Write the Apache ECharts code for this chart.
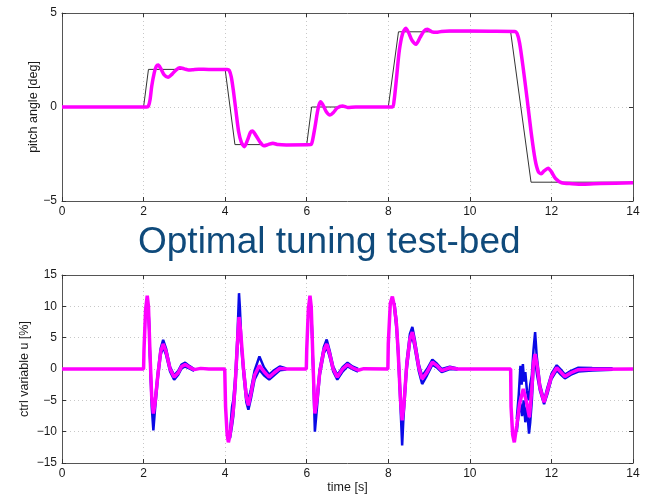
<!DOCTYPE html>
<html>
<head>
<meta charset="utf-8">
<script src="https://cdn.jsdelivr.net/npm/echarts@6/dist/echarts.min.js"></script>
<style>
html,body{margin:0;padding:0;background:#fff;}
#chart{width:648px;height:498px;}
</style>
</head>
<body>
<div id="chart"></div>
<script>
// ---------- tick labels ----------
var xTicks = [0, 2, 4, 6, 8, 10, 12, 14];
var pitchTicks = [-5, 0, 5];
var ctrlTicks = [-15, -10, -5, 0, 5, 10, 15];

// ---------- top: pitch reference (black) ----------
var refT = [0, 2, 2.12, 4, 4.24, 6, 6.12, 8, 8.25, 11, 11.5, 14];
var refV = [0, 0, 2, 2, -2, -2, 0, 0, 4, 4, -4, -4];

// ---------- top: pitch response (magenta) ----------
var pitchT = [0, 2.08, 2.12, 2.16, 2.2, 2.26, 2.31, 2.36, 2.42, 2.5, 2.6, 2.7, 2.8, 2.89, 3.0, 3.1, 3.2, 3.35, 3.6,
  4.05, 4.1, 4.15, 4.2, 4.27, 4.33, 4.4, 4.47, 4.55, 4.62, 4.67, 4.75, 4.85, 4.95, 5.05, 5.17, 5.3, 5.5,
  6.1, 6.14, 6.2, 6.26, 6.3, 6.34, 6.4, 6.48, 6.57, 6.65, 6.75, 6.88, 7.0, 7.2,
  8.1, 8.14, 8.2, 8.27, 8.35, 8.43, 8.5, 8.58, 8.68, 8.78, 8.88, 8.96, 9.07, 9.18, 9.3, 9.5, 10.5,
  11.1, 11.16, 11.22, 11.3, 11.4, 11.5, 11.6, 11.68, 11.75, 11.82, 11.92, 12.0, 12.1, 12.25, 12.5, 12.78, 13.2, 14];
var pitchV = [0, 0, 0.05, 0.4, 1.1, 1.8, 2.15, 2.23, 2.05, 1.72, 1.58, 1.75, 1.98, 2.09, 2.03, 1.97, 1.98, 2.01, 2.0,
  2.0, 1.95, 1.6, 0.9, -0.3, -1.3, -1.9, -2.11, -1.75, -1.35, -1.28, -1.5, -1.85, -2.06, -2.0, -1.93, -2.0, -2.02,
  -2.0, -1.8, -1.1, -0.3, 0.1, 0.28, 0.1, -0.25, -0.43, -0.3, -0.05, 0.05, -0.02, 0.0,
  0.0, 0.3, 1.5, 3.0, 3.9, 4.19, 3.95, 3.55, 3.34, 3.7, 4.05, 4.13, 4.0, 3.97, 4.02, 4.04, 4.03,
  4.02, 3.9, 3.4, 2.2, 0.5, -1.3, -2.8, -3.45, -3.55, -3.4, -3.26, -3.45, -3.8, -4.03, -4.08, -4.11, -4.07, -4.03];

// ---------- bottom: control variable (magenta) ----------
var ctrlT = [0, 2.0, 2.01, 2.05, 2.09, 2.12, 2.16, 2.2, 2.24, 2.28, 2.35, 2.42, 2.48, 2.55, 2.65, 2.75, 2.85, 2.93, 3.02, 3.12, 3.24, 3.4, 3.6,
  3.99, 4.01, 4.05, 4.08, 4.12, 4.17, 4.2, 4.25, 4.3, 4.34, 4.38, 4.45, 4.52, 4.57, 4.63, 4.72, 4.84, 4.95, 5.08, 5.2, 5.34, 5.5,
  5.99, 6.0, 6.04, 6.08, 6.11, 6.15, 6.18, 6.2, 6.25, 6.32, 6.42, 6.49, 6.56, 6.65, 6.75, 6.88, 7.0, 7.12, 7.26, 7.4,
  7.99, 8.0, 8.05, 8.1, 8.15, 8.2, 8.24, 8.3, 8.34, 8.38, 8.45, 8.53, 8.59, 8.65, 8.75, 8.83, 8.95, 9.08, 9.2, 9.31, 9.51, 9.7,
  11.0, 11.01, 11.05, 11.09, 11.15, 11.22, 11.31, 11.38, 11.46, 11.52, 11.56, 11.6, 11.65, 11.72, 11.82, 11.9, 12.0, 12.13, 12.23, 12.33, 12.48, 12.66, 13.0, 14];
var ctrlV = [0, 0, 3, 9.5, 11.7, 10, 2, -4.5, -7.1, -5.5, -1, 2.8, 4.0, 2.8, 0.0, -1.3, -0.6, 0.4, 0.7, 0.3, -0.1, 0.1, 0.0,
  0.0, -6, -10.5, -11.7, -10.5, -8, -6.6, -2, 4, 8.3, 6, 0, -4.5, -5.8, -4, -1, 0.55, -0.4, -1.3, -0.6, 0.1, 0.0,
  0, 3, 9.5, 11.7, 10, 2, -4, -7.1, -5, -0.5, 3, 4.0, 2.5, 0, -1.3, 0, 0.7, 0.2, -0.2, 0.05,
  0, 4, 10.5, 11.55, 10, 7.2, 3, -5, -8.2, -6, 0.5, 4.8, 5.9, 4, 0.2, -1.6, -0.5, 1.1, 0.5, -0.25, 0.2, 0,
  0, -6, -10.5, -11.7, -9, -5.5, -3.2, -5, -7.7, -3, 1, 2.4, 0.5, -3, -5.3, -3.5, -1.2, 0.2, -0.5, -1.2, -0.6, -0.1, -0.05, 0];

// ---------- bottom: spread of realisations (blue), upper and lower envelopes, null = gap ----------
var blueHiT = [2.12, 2.16, 2.2, 2.24, 2.28, 2.35, 2.42, 2.48, 2.55, 2.65, 2.75, 2.85, 2.93, 3.02, 3.12, 3.24, null,
  4.12, 4.17, 4.2, 4.25, 4.3, 4.34, 4.36, 4.4, 4.45, 4.52, 4.57, 4.63, 4.72, 4.84, 4.95, 5.08, 5.2, 5.34, 5.5, null,
  6.11, 6.15, 6.18, 6.2, 6.25, 6.32, 6.42, 6.49, 6.56, 6.65, 6.75, 6.88, 7.0, 7.12, 7.26, null,
  8.15, 8.2, 8.24, 8.3, 8.34, 8.38, 8.45, 8.53, 8.59, 8.65, 8.75, 8.83, 8.95, 9.08, 9.2, 9.31, 9.51, 9.7, null,
  11.15, 11.2, 11.24, 11.27, 11.3, 11.33, 11.36, 11.4, 11.44, 11.48, 11.52, 11.56, 11.6, 11.64, 11.72, 11.82, 11.9, 12.0, 12.13, 12.23, 12.33, 12.48, 12.66, 13.0, 13.5];
var blueHiV = [10, 2, -4.5, -6.5, -5, -0.5, 3.3, 4.65, 3.3, 0.3, -1.0, -0.3, 0.7, 1.0, 0.5, 0.0, null,
  -10, -6, -5, -1, 5, 12.1, 10, 4, 0.5, -3.8, -5.0, -3.3, -0.3, 2.0, 0.3, -0.9, -0.2, 0.4, 0.1, null,
  10, 2, -3.5, -6.5, -4.5, 0, 3.5, 4.7, 3.0, 0.4, -1.0, 0.3, 1.0, 0.4, 0.0, null,
  10.5, 7.8, 3.5, -4.5, -7.5, -5.5, 1.2, 5.6, 6.7, 4.7, 0.7, -1.1, 0.0, 1.5, 0.8, 0.0, 0.35, 0.1, null,
  -8, -4, 0.5, -2.5, 0.8, -2, -0.5, -3.5, -5, -2.5, -1, 3, 5.9, 2, -2.5, -5.0, -3.0, -0.8, 0.6, -0.1, -0.9, -0.3, 0.2, 0.15, 0.1];
var blueLoT = [2.12, 2.16, 2.2, 2.24, 2.28, 2.35, 2.42, 2.48, 2.55, 2.65, 2.75, 2.85, 2.93, 3.02, 3.12, 3.24, null,
  4.12, 4.17, 4.2, 4.25, 4.3, 4.34, 4.38, 4.45, 4.52, 4.57, 4.63, 4.72, 4.84, 4.95, 5.08, 5.2, 5.34, 5.5, null,
  6.11, 6.15, 6.18, 6.2, 6.24, 6.32, 6.42, 6.49, 6.56, 6.65, 6.75, 6.88, 7.0, 7.12, 7.26, null,
  8.15, 8.2, 8.24, 8.3, 8.34, 8.37, 8.45, 8.53, 8.59, 8.65, 8.75, 8.83, 8.95, 9.08, 9.2, 9.31, 9.51, 9.7, null,
  11.15, 11.2, 11.24, 11.28, 11.32, 11.36, 11.4, 11.45, 11.48, 11.52, 11.56, 11.6, 11.65, 11.72, 11.82, 11.9, 12.0, 12.13, 12.23, 12.33, 12.48, 12.66, 13.0, 13.5];
var blueLoV = [10, 1.5, -6, -9.8, -6.5, -1.5, 2.3, 3.5, 2.3, -0.4, -1.7, -0.9, 0.1, 0.4, 0.1, -0.3, null,
  -11, -9, -7.5, -3, 3, 7, 5, -0.8, -5.3, -6.5, -4.8, -1.7, -0.1, -1.0, -1.7, -1.0, -0.2, -0.1, null,
  10, 1.5, -5.5, -10, -7, -1, 2.5, 3.5, 2, -0.4, -1.7, -0.4, 0.4, 0.0, -0.4, null,
  9.5, 6.5, 2.5, -6, -12.2, -8, -0.2, 4.2, 5.3, 3.3, -0.4, -2.4, -1.0, 0.7, 0.2, -0.5, 0.0, -0.1, null,
  -10, -7, -5.5, -7.5, -5, -8.5, -6, -10.3, -8.5, -5, 0, 1.5, -1, -3.5, -5.6, -4, -1.6, -0.2, -0.9, -1.5, -0.9, -0.4, -0.25, -0.1];

function pairs(t, v) {
  var out = [];
  for (var i = 0; i < t.length; i++) {
    out.push(t[i] === null ? [null, null] : [t[i], v[i]]);
  }
  return out;
}
function fmt(v) { return v < 0 ? '\u2212' + Math.abs(v) : String(v); }

var FONT = 'Liberation Sans, Arial, Helvetica, sans-serif';
var AXC = '#555';
var GRID = '#c8c8c8';

function xAx(gi, showLabel, pos, name) {
  return {
    type: 'value', gridIndex: gi, min: xTicks[0], max: xTicks[xTicks.length - 1], interval: 2,
    position: pos,
    axisLine: { show: true, onZero: false, lineStyle: { color: AXC, width: 1 } },
    axisTick: { show: true, inside: true, length: 4, lineStyle: { color: '#333' } },
    axisLabel: { show: showLabel, color: '#1a1a1a', fontSize: 12, fontFamily: FONT, margin: 5 },
    splitLine: { show: showLabel, lineStyle: { color: GRID, type: [1, 3], width: 1 } },
    name: name || '', nameLocation: 'middle', nameGap: 18,
    nameTextStyle: { color: '#1a1a1a', fontSize: 12.5, fontFamily: FONT }
  };
}
function yAx(gi, ticks, showLabel, pos, name, gap) {
  return {
    type: 'value', gridIndex: gi, min: ticks[0], max: ticks[ticks.length - 1], interval: ticks[1] - ticks[0],
    position: pos,
    axisLine: { show: true, onZero: false, lineStyle: { color: AXC, width: 1 } },
    axisTick: { show: true, inside: true, length: 4, lineStyle: { color: '#333' } },
    axisLabel: { show: showLabel, color: '#1a1a1a', fontSize: 12, fontFamily: FONT, margin: 5, formatter: fmt },
    splitLine: { show: showLabel, lineStyle: { color: GRID, type: [1, 3], width: 1 } },
    name: name || '', nameLocation: 'middle', nameGap: gap || 0, nameMoveOverlap: false,
    nameTextStyle: { color: '#1a1a1a', fontSize: 12.5, fontFamily: FONT }
  };
}

var chart = echarts.init(document.getElementById('chart'), null, { renderer: 'canvas' });
chart.setOption({
  animation: false,
  backgroundColor: '#ffffff',
  grid: [
    { left: 62, right: 15, top: 13, height: 188 },
    { left: 62, right: 15, top: 275, height: 188 }
  ],
  xAxis: [
    xAx(0, true, 'bottom'),
    xAx(1, true, 'bottom', 'time [s]'),
    xAx(0, false, 'top'),
    xAx(1, false, 'top')
  ],
  yAxis: [
    yAx(0, pitchTicks, true, 'left', 'pitch angle [deg]', 22),
    yAx(1, ctrlTicks, true, 'left', 'ctrl variable u [%]', 31),
    yAx(0, pitchTicks, false, 'right'),
    yAx(1, ctrlTicks, false, 'right')
  ],
  graphic: [{
    type: 'text', left: 138, top: 224,
    style: { text: 'Optimal tuning test-bed', fill: '#0f4a7b', fontSize: 37, fontFamily: FONT }
  }],
  series: [
    { type: 'line', xAxisIndex: 0, yAxisIndex: 0, data: pairs(refT, refV), showSymbol: false,
      lineStyle: { color: '#333', width: 1 }, z: 2 },
    { type: 'line', xAxisIndex: 0, yAxisIndex: 0, data: pairs(pitchT, pitchV), showSymbol: false, smooth: 0.25,
      lineStyle: { color: '#ff00ff', width: 3.5 }, z: 3 },
    { type: 'line', xAxisIndex: 1, yAxisIndex: 1, data: pairs(blueHiT, blueHiV), showSymbol: false, connectNulls: false,
      lineStyle: { color: '#0a0ae6', width: 2.5 }, z: 2 },
    { type: 'line', xAxisIndex: 1, yAxisIndex: 1, data: pairs(blueLoT, blueLoV), showSymbol: false, connectNulls: false,
      lineStyle: { color: '#0a0ae6', width: 2.5 }, z: 2 },
    { type: 'line', xAxisIndex: 1, yAxisIndex: 1, data: pairs(ctrlT, ctrlV), showSymbol: false,
      lineStyle: { color: '#ff00ff', width: 3.5 }, z: 3 }
  ]
});
</script>
</body>
</html>
